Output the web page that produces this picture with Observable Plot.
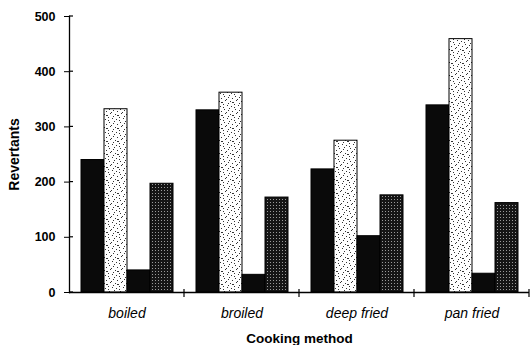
<!DOCTYPE html>
<html>
<head>
<meta charset="utf-8">
<script src="https://cdn.jsdelivr.net/npm/d3@7"></script>
<script src="https://cdn.jsdelivr.net/npm/@observablehq/plot@0.6"></script>
<style>
  html, body { margin: 0; padding: 0; background: #fff; }
</style>
</head>
<body>
<div id="chart"></div>
<script>
const methods = ["boiled", "broiled", "deep fried", "pan fried"];
const seriesNames = ["Series 1", "Series 2", "Series 3", "Series 4"];
const series1 = [240, 330, 223, 339];
const series2 = [332, 362, 275, 459];
const series3 = [40, 32, 102, 34];
const series4 = [197, 172, 176, 162];
const yTicks = [0, 100, 200, 300, 400, 500];

const allSeries = [series1, series2, series3, series4];
const data = [];
methods.forEach((m, i) => {
  seriesNames.forEach((s, j) => data.push({method: m, series: s, value: allSeries[j][i]}));
});
const fills = {
  "Series 1": "#0a0a0a",
  "Series 2": "url(#stip)",
  "Series 3": "#0a0a0a",
  "Series 4": "url(#grid)"
};

const chart = Plot.plot({
  width: 530,
  height: 345,
  marginLeft: 68,
  marginRight: 1,
  marginTop: 16,
  marginBottom: 53,
  style: {fontFamily: "'Liberation Sans', Arial, sans-serif", background: "#fff", color: "#000"},
  fx: {domain: methods, padding: 0},
  x: {domain: seriesNames, paddingInner: 0, paddingOuter: 0.45, axis: null},
  y: {domain: [0, 500]},
  color: {type: "identity"},
  marks: [
    Plot.barY(data, {fx: "method", x: "series", y: "value", fill: d => fills[d.series], stroke: "#000", strokeWidth: 1}),
    Plot.ruleY([0], {stroke: "#000", strokeWidth: 1.3}),
    Plot.frame({anchor: "left", facetAnchor: "left", stroke: "#000", strokeWidth: 1.3}),
    Plot.axisY({ticks: yTicks, tickSize: 5, tickPadding: 9, fontWeight: "bold", fontSize: 12.5, label: null}),
    Plot.axisY({ticks: yTicks, tickSize: 0, tickFormat: () => "", fontWeight: "bold", fontSize: 14,
      label: "Revertants", labelArrow: "none", labelAnchor: "center", labelOffset: 60}),
    Plot.axisFx({anchor: "bottom", tickSize: 0, tickPadding: 16, fontStyle: "italic", fontSize: 14, label: null}),
    Plot.axisFx({anchor: "bottom", tickSize: 0, tickFormat: () => "", label: "Cooking method", labelArrow: "none",
      labelAnchor: "center", labelOffset: 50, fontWeight: "bold", fontSize: 13.5})
  ]
});

const svg = d3.select(chart.tagName.toLowerCase() === "svg" ? chart : chart.querySelector("svg"));
const defs = svg.insert("defs", ":first-child");
const stip = defs.append("pattern").attr("id", "stip").attr("patternUnits", "userSpaceOnUse")
  .attr("width", 11).attr("height", 13);
stip.append("rect").attr("width", 11).attr("height", 13).attr("fill", "#fff");
[[1,1],[5,2],[8,0],[3,4],[9,5],[6,7],[0,8],[4,10],[7,11],[10,9],[2,12],[8,3],[2,6],[6,11]].forEach(([a, b]) => {
  stip.append("rect").attr("x", a).attr("y", b).attr("width", 1).attr("height", 1).attr("fill", "#333");
});
const grid = defs.append("pattern").attr("id", "grid").attr("patternUnits", "userSpaceOnUse")
  .attr("width", 3).attr("height", 3);
grid.append("rect").attr("width", 3).attr("height", 3).attr("fill", "#151515");
grid.append("rect").attr("x", 1).attr("y", 1).attr("width", 1).attr("height", 1).attr("fill", "#9a9a9a");

// extra tick nubs from the library's scales
const fx = chart.scale("fx"), y = chart.scale("y");
const y0 = y.apply(0);
const nubs = svg.append("g").attr("stroke", "#000").attr("stroke-width", 1.2);
methods.forEach(m => {
  const xr = fx.apply(m) + fx.bandwidth;
  nubs.append("line").attr("x1", xr).attr("x2", xr).attr("y1", y0 - 3).attr("y2", y0 + 5);
});
const xl = fx.apply(methods[0]);
yTicks.forEach(t => {
  nubs.append("line").attr("x1", xl).attr("x2", xl + 4).attr("y1", y.apply(t)).attr("y2", y.apply(t));
});

document.getElementById("chart").appendChild(chart);
</script>
</body>
</html>
